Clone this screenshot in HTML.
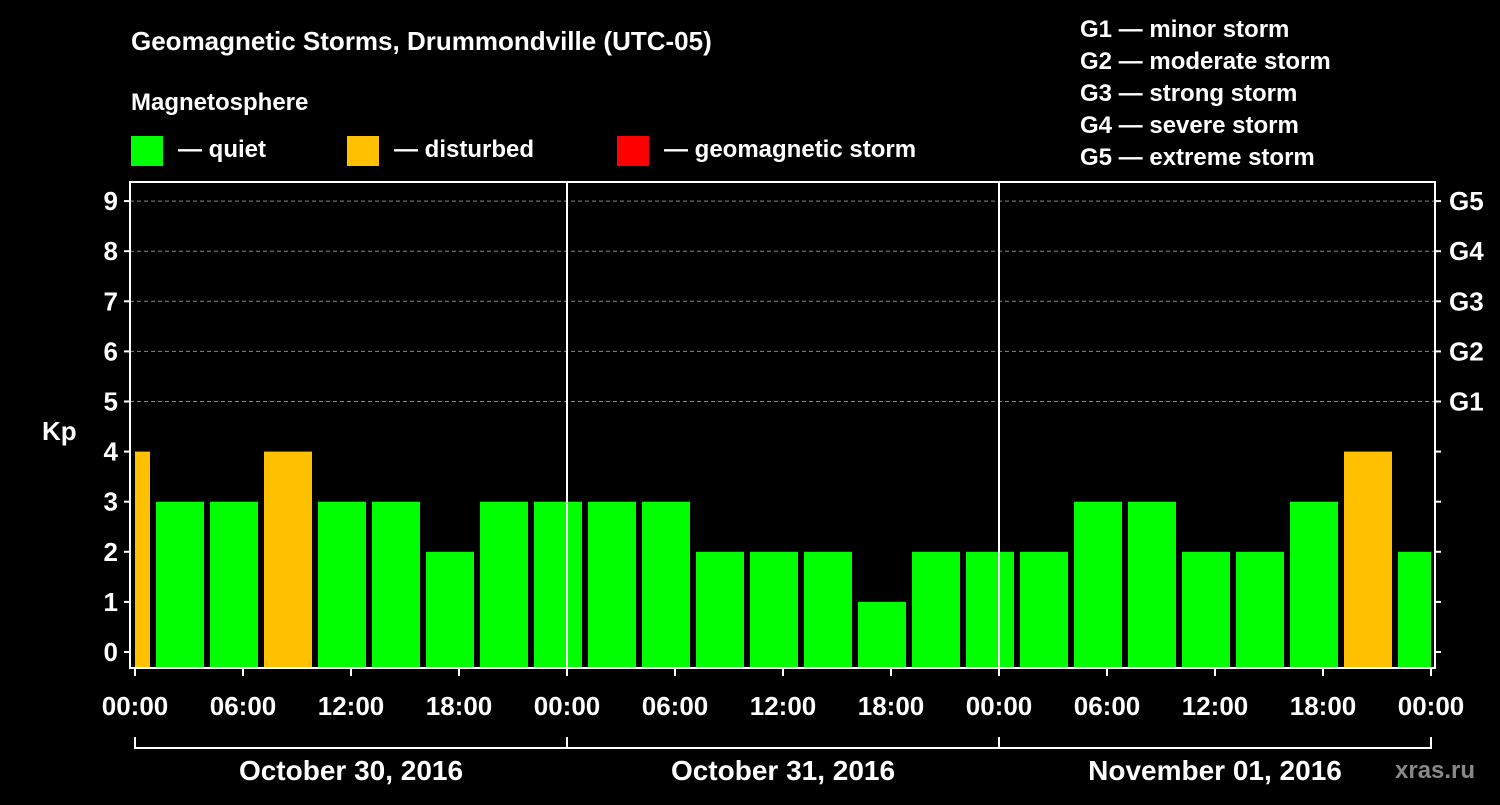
<!DOCTYPE html>
<html><head><meta charset="utf-8"><style>
body{margin:0;background:#000;}
svg text{font-family:"Liberation Sans",Arial,sans-serif;font-weight:bold;fill:#fff;}
</style></head><body>
<svg id="chart" width="1500" height="800" xmlns="http://www.w3.org/2000/svg">
<rect width="1500" height="800" fill="#000"/>
<text x="131" y="50" font-size="26">Geomagnetic Storms, Drummondville (UTC-05)</text>
<text x="131" y="110" font-size="24">Magnetosphere</text>
<g><rect x="131" y="136" width="32" height="30" fill="#00ff00"/><text x="178" y="157" font-size="24">— quiet</text></g>
<g><rect x="347" y="136" width="32" height="30" fill="#ffc000"/><text x="394" y="157" font-size="24">— disturbed</text></g>
<g><rect x="617" y="136" width="32" height="30" fill="#ff0000"/><text x="664" y="157" font-size="24">— geomagnetic storm</text></g>
<g font-size="24">
<text x="1080" y="37">G1 — minor storm</text>
<text x="1080" y="69">G2 — moderate storm</text>
<text x="1080" y="101">G3 — strong storm</text>
<text x="1080" y="133">G4 — severe storm</text>
<text x="1080" y="165">G5 — extreme storm</text>
</g>
<text x="42" y="440" font-size="26">Kp</text>
<text x="1395" y="778" font-size="24" fill="#888" style="fill:#888">xras.ru</text>
<g id="plot"></g>
</svg>
<script>
const kpValues=[4,3,3,4,3,3,2,3,3,3,3,2,2,2,1,2,2,2,3,3,2,2,3,4,2];
const yTicks=[0,1,2,3,4,5,6,7,8,9];
const gLabels=["G1","G2","G3","G4","G5"];
const timeLabels=["00:00","06:00","12:00","18:00","00:00","06:00","12:00","18:00","00:00","06:00","12:00","18:00","00:00"];
const dayLabels=["October 30, 2016","October 31, 2016","November 01, 2016"];
const NS="http://www.w3.org/2000/svg";
const g=document.getElementById('plot');
const X0=135,PX_H=18,TOTAL_H=72,L=130,R=1435,T=182,B=668;
const xs=h=>X0+h*PX_H;
const ys=v=>652-v*50.1;
function mk(tag,attrs){const e=document.createElementNS(NS,tag);for(const k in attrs)e.setAttribute(k,attrs[k]);g.appendChild(e);return e;}
// grid
for(let v=5;v<=9;v++){const l=mk('line',{x1:L,x2:R,y1:ys(v),y2:ys(v),stroke:'#888','stroke-dasharray':'4,3','stroke-width':1});

}
// bars
kpValues.forEach((v,i)=>{
 const hs=-2+i*3,he=hs+3;
 let x1=Math.max(xs(hs)+3,xs(0)), x2=Math.min(xs(he)-3,xs(TOTAL_H));
 const r=mk('rect',{x:x1,y:ys(v),width:x2-x1,height:B-ys(v),fill:v>=5?'#ff0000':(v>=4?'#ffc000':'#00ff00')});
 
 
});
// frame
const f=mk('rect',{x:L,y:T,width:R-L,height:B-T,fill:'none',stroke:'#fff','stroke-width':2});


[24,48].forEach(h=>{const l=mk('line',{x1:xs(h),x2:xs(h),y1:T,y2:B,stroke:'#fff','stroke-width':2});

});
// y ticks
yTicks.forEach(v=>{
 mk('line',{x1:L-6,x2:L,y1:ys(v),y2:ys(v),stroke:'#fff','stroke-width':2});
 mk('line',{x1:R,x2:R+6,y1:ys(v),y2:ys(v),stroke:'#fff','stroke-width':2});
 const t=mk('text',{x:L-12,y:ys(v)+9,'font-size':26,'text-anchor':'end'});t.textContent=v;
 
 
 if(v>=5){const gt=mk('text',{x:R+14,y:ys(v)+9,'font-size':26});gt.textContent=gLabels[v-5];
 
 }
});
// x ticks
timeLabels.forEach((s,i)=>{
 const x=xs(i*6);
 mk('line',{x1:x,x2:x,y1:B,y2:B+8,stroke:'#fff','stroke-width':2});
 const t=mk('text',{x:x,y:715,'font-size':26,'text-anchor':'middle'});t.textContent=s;
 
 
});
// day bracket
mk('line',{x1:xs(0),x2:xs(TOTAL_H),y1:748,y2:748,stroke:'#fff','stroke-width':2});
for(let d=0;d<=3;d++)mk('line',{x1:xs(d*24),x2:xs(d*24),y1:737,y2:749,stroke:'#fff','stroke-width':2});
dayLabels.forEach((s,i)=>{const t=mk('text',{x:xs(i*24+12),y:780,'font-size':28,'text-anchor':'middle'});t.textContent=s;
 
 });
</script>
</body></html>
